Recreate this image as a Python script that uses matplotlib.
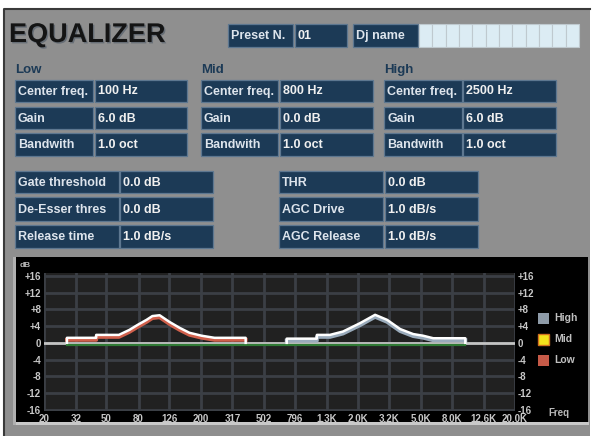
import matplotlib
matplotlib.use("Agg")
import matplotlib.pyplot as plt
from matplotlib.patches import Rectangle
from matplotlib import transforms
import matplotlib.patheffects as pe

W, H = 592, 436
NAVY = "#1c3a56"
PANEL = "#8f8f8f"
FONT = ["Liberation Sans", "DejaVu Sans"]

# panel texts
bands = ["Low", "Mid", "High"]
param_names = ["Center freq.", "Gain", "Bandwith"]
low_values = ["100 Hz", "6.0 dB", "1.0 oct"]
mid_values = ["800 Hz", "0.0 dB", "1.0 oct"]
high_values = ["2500 Hz", "6.0 dB", "1.0 oct"]
dyn_left_names = ["Gate threshold", "De-Esser thres", "Release time"]
dyn_left_values = ["0.0 dB", "0.0 dB", "1.0 dB/s"]
dyn_right_names = ["THR", "AGC Drive", "AGC Release"]
dyn_right_values = ["0.0 dB", "1.0 dB/s", "1.0 dB/s"]
preset_no = "01"

# chart axes
freq_ticks = [20, 32, 50, 80, 126, 200, 317, 502, 796, 1262, 2000, 3170, 5024, 7962, 12619, 20000]
freq_labels = ["20", "32", "50", "80", "126", "200", "317", "502", "796",
               "1.3K", "2.0K", "3.2K", "5.0K", "8.0K", "12.6K", "20.0K"]
db_ticks = [16, 12, 8, 4, 0, -4, -8, -12, -16]
db_labels = ["+16", "+12", "+8", "+4", "0", "-4", "-8", "-12", "-16"]

# response curves (Hz, dB)
flat_freq = [20, 20000]
flat_gain = [0, 0]
mid_freq = [28, 9650]
mid_gain = [0, 0]
low_freq = [28, 28, 43, 43, 60, 70, 79, 90, 98, 109, 126, 146, 169, 202, 244, 385, 385]
low_gain = [0, 1.2, 1.2, 1.9, 1.9, 3.1, 4.3, 5.5, 6.4, 6.6, 5.0, 3.6, 2.4, 1.7, 1.2, 1.2, 0]
high_freq = [703, 703, 1094, 1094, 1325, 1604, 2060, 2570, 3064, 3710, 4490, 5200, 6030, 9650, 9650]
high_gain = [0, 1.0, 1.0, 1.9, 1.9, 2.7, 4.7, 6.7, 5.5, 3.3, 2.1, 1.7, 1.1, 1.1, 0]

legend_names = ["High", "Mid", "Low"]
legend_colors = ["#8e9ba8", "#f2e21c", "#c65a48"]


def frac(l, t, r, b):
    return [l / W, 1 - b / H, (r - l) / W, (b - t) / H]


fig = plt.figure(figsize=(W / 100, H / 100), dpi=100, facecolor="white")
bg = fig.add_axes([0, 0, 1, 1])
bg.set_xlim(0, W)
bg.set_ylim(H, 0)
bg.axis("off")

# outer gray panel
bg.add_patch(Rectangle((4, 9), 586, 430, facecolor=PANEL, edgecolor="none"))
bg.plot([4, 4, 590], [436, 9.5, 9.5], color="#3a3a3a", lw=1.5)


def box(x0, y0, x1, y1, text, color="#dde4ec", size=9):
    bg.add_patch(Rectangle((x0, y0), x1 - x0, y1 - y0, facecolor=NAVY,
                           edgecolor="#5d7790", lw=0.9))
    bg.text(x0 + 3, (y0 + y1) / 2 + 0.5, text, color=color, fontsize=size,
            fontweight="bold", family=FONT, va="center", ha="left")


# title
bg.text(9, 35, "EQUALIZER", fontsize=19.5, fontweight="bold", family=FONT,
        color="#141414", va="center", ha="left",
        path_effects=[pe.withSimplePatchShadow(offset=(1, -1), shadow_rgbFace="#56606c", alpha=0.7)])

# header boxes
box(228, 24, 293, 47, "Preset N.")
box(295, 24, 347, 47, preset_no, color="#f0f0f0")
box(353, 24, 418, 47, "Dj name")
n_cells = 12
cw = (579 - 419) / n_cells
for i in range(n_cells):
    bg.add_patch(Rectangle((419 + i * cw, 24), cw, 23, facecolor="#dcecf4",
                           edgecolor="#bfc9cf", lw=0.8))

# band sections
band_x = [(15, 93, 95, 187), (201, 278, 280, 373), (384, 462, 463, 556)]
rows = [(80, 102), (107, 129), (133, 156)]
for name, (a, b, c, d), vals in zip(bands, band_x, [low_values, mid_values, high_values]):
    bg.text(a, 70, name, fontsize=9.5, fontweight="bold", family=FONT,
            color=NAVY, va="center", ha="left")
    for (y0, y1), pname, v in zip(rows, param_names, vals):
        box(a, y0, b, y1, pname)
        box(c, y0, d, y1, v, color="#f0f0f0")

# dynamics
drows = [(171, 193), (197, 221), (225, 248)]
for (y0, y1), n1, v1, n2, v2 in zip(drows, dyn_left_names, dyn_left_values,
                                     dyn_right_names, dyn_right_values):
    box(15, y0, 119, y1, n1)
    box(120, y0, 213, y1, v1, color="#f0f0f0")
    box(279, y0, 383, y1, n2)
    box(385, y0, 478, y1, v2, color="#f0f0f0")

# chart panel
bg.add_patch(Rectangle((16, 257), 572, 165, facecolor="black", edgecolor="none"))
bg.add_patch(Rectangle((14, 422), 575, 3, facecolor="#c9c9c9", edgecolor="none"))
bg.add_patch(Rectangle((13, 257), 3, 168, facecolor="#b0b0b0", edgecolor="none"))
bg.text(20, 265, "dB", fontsize=6, fontweight="bold", family=FONT, color="#b8b8b8",
        va="center", ha="left")
bg.text(548, 413, "Freq", fontsize=7, fontweight="bold", family=FONT, color="#b8b8b8",
        va="center", ha="left")
for i, (nm, col) in enumerate(zip(legend_names, legend_colors)):
    yc = 318 + i * 21
    bg.add_patch(Rectangle((538, yc - 5.5), 11, 11, facecolor=col,
                           edgecolor="#d07020" if nm == "Mid" else "none", lw=1))
    bg.text(554, yc, nm, fontsize=7.5, fontweight="bold", family=FONT, color="#c0c0c0",
            va="center", ha="left")

ax = fig.add_axes(frac(44, 273, 515, 411))
ax.set_facecolor("#212121")
ax.set_xscale("log")
ax.set_xlim(20, 20000)
ax.set_ylim(-16.3, 16.7)
ax.set_xticks(freq_ticks)
ax.set_xticklabels(freq_labels)
ax.xaxis.set_minor_locator(matplotlib.ticker.NullLocator())
ax.set_yticks(db_ticks)
ax.set_yticklabels(db_labels)
ax.grid(True, color="#3b3f45", lw=2)
ax.set_axisbelow(True)
for s in ax.spines.values():
    s.set_visible(False)
ax.tick_params(axis="x", length=0, pad=2.5, labelsize=7, labelcolor="#c8c8c8")
ax.tick_params(axis="y", length=0, pad=2, labelsize=7, labelcolor="#c8c8c8",
               labelleft=True, labelright=True)
for lab in ax.get_xticklabels() + ax.get_yticklabels():
    lab.set_family(FONT)
    lab.set_fontweight("bold")

below = transforms.offset_copy(ax.transData, fig=fig, x=0, y=-2, units="dots")
ax.plot(flat_freq, flat_gain, color="#c4c4c4", lw=2)
ax.plot(mid_freq, mid_gain, color="#2f7a34", lw=1.6, transform=below)
ax.plot(low_freq[1:-1], low_gain[1:-1], color="#d0604c", lw=2.8, transform=below)
ax.plot(low_freq, low_gain, color="white", lw=1.8)
ax.plot(high_freq[1:-1], high_gain[1:-1], color="#9aabbb", lw=2.8, transform=below)
ax.plot(high_freq, high_gain, color="white", lw=1.8)

fig.savefig("out.png", dpi=100, facecolor="white")
